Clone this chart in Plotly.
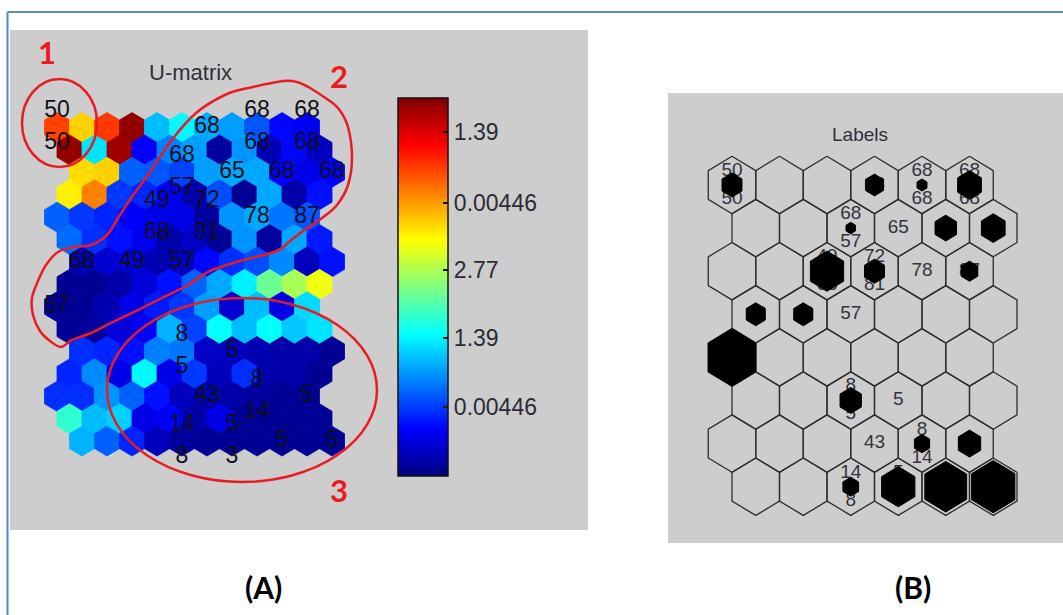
import numpy as np
import plotly.graph_objects as go

W, H = 1063, 615

# ---------------------------------------------------------------- data
MAP_ROWS, MAP_COLS = 8, 6

# U-matrix (2*8-1 rows x 2*6-1 cols), values as position on the colour scale
UMAT = [
    [0.81, 0.67, 0.82, 0.98, 0.31, 0.37, 0.29, 0.28, 0.21, 0.13, 0.12],
    [0.98, 0.35, 0.97, 0.12, 0.25, 0.28, 0.03, 0.27, 0.05, 0.13, 0.06],
    [0.66, 0.67, 0.22, 0.21, 0.19, 0.28, 0.29, 0.29, 0.12, 0.10, 0.12],
    [0.64, 0.75, 0.18, 0.16, 0.11, 0.04, 0.20, 0.02, 0.29, 0.04, 0.14],
    [0.22, 0.18, 0.16, 0.12, 0.10, 0.10, 0.03, 0.27, 0.29, 0.24, 0.21],
    [0.23, 0.17, 0.14, 0.11, 0.04, 0.07, 0.02, 0.27, 0.03, 0.29, 0.15],
    [0.05, 0.08, 0.08, 0.05, 0.06, 0.13, 0.17, 0.20, 0.26, 0.06, 0.14],
    [0.02, 0.02, 0.04, 0.09, 0.14, 0.22, 0.29, 0.36, 0.48, 0.54, 0.61],
    [0.02, 0.02, 0.05, 0.10, 0.15, 0.18, 0.28, 0.08, 0.31, 0.10, 0.34],
    [0.02, 0.03, 0.09, 0.12, 0.30, 0.19, 0.38, 0.31, 0.38, 0.32, 0.35],
    [0.17, 0.16, 0.14, 0.25, 0.24, 0.07, 0.06, 0.05, 0.04, 0.04, 0.02],
    [0.16, 0.26, 0.10, 0.37, 0.10, 0.18, 0.06, 0.17, 0.04, 0.04, 0.02],
    [0.17, 0.17, 0.27, 0.22, 0.14, 0.06, 0.04, 0.04, 0.03, 0.02, 0.02],
    [0.42, 0.31, 0.33, 0.10, 0.12, 0.04, 0.10, 0.02, 0.02, 0.02, 0.02],
    [0.30, 0.22, 0.16, 0.06, 0.03, 0.02, 0.02, 0.02, 0.02, 0.02, 0.02],
]

# labels attached to map units: (row, col, labels), 1-based
UNIT_LABELS = [
    (1, 1, ["50", "50"]), (1, 4, ["68"]), (1, 5, ["68", "68"]), (1, 6, ["68", "68"]),
    (2, 3, ["68", "57"]), (2, 4, ["65"]), (2, 5, ["68"]), (2, 6, ["68"]),
    (3, 3, ["49", "68"]), (3, 4, ["72", "81"]), (3, 5, ["78"]), (3, 6, ["87"]),
    (4, 1, ["68"]), (4, 2, ["49"]), (4, 3, ["57"]),
    (5, 1, ["57"]),
    (6, 3, ["8", "5"]), (6, 4, ["5"]),
    (7, 4, ["43"]), (7, 5, ["8", "14"]), (7, 6, ["5"]),
    (8, 3, ["14", "8"]), (8, 4, ["5", "3"]), (8, 5, ["5"]), (8, 6, ["5"]),
]

# hit-marker size per unit (fraction of the unit hexagon)
HITS = [
    (1, 1, 0.42), (1, 4, 0.38), (1, 5, 0.21), (1, 6, 0.50),
    (2, 3, 0.20), (2, 5, 0.45), (2, 6, 0.50),
    (3, 3, 0.70), (3, 4, 0.42), (3, 6, 0.35),
    (4, 1, 0.40), (4, 2, 0.40),
    (5, 1, 1.00),
    (6, 3, 0.45),
    (7, 5, 0.32), (7, 6, 0.47),
    (8, 3, 0.33), (8, 4, 0.70), (8, 5, 0.88), (8, 6, 0.91),
]

CB_TICKS = [0.183, 0.365, 0.545, 0.722, 0.910]
CB_TICKTEXT = ["0.00446", "1.39", "2.77", "0.00446", "1.39"]

# ---------------------------------------------------------------- styling / layout
JET_STOPS = [0.0, 0.125, 0.375, 0.625, 0.875, 1.0]
JET_RGB = [(0, 0, 128), (0, 0, 255), (0, 255, 255), (255, 255, 0), (255, 0, 0), (128, 0, 0)]
JET = [[s, "rgb(%d,%d,%d)" % c] for s, c in zip(JET_STOPS, JET_RGB)]

BG_GRAY = "#cdcdcd"
FRAME_BLUE = "#5b87c5"
RED = "#ea1b22"

# panel geometry in pixels
A_BOX = (10, 30, 588, 530)          # left, top, right, bottom
A_X0, A_DX, A_Y0, A_DY = 57.0, 25.0, 127.5, 22.4
B_BOX = (668, 93, 1063, 543)
B_X0, B_DX, B_Y0, B_DY = 732.0, 47.5, 185.0, 43.1
CB_BOX = (398, 98, 448, 476)

HEX_X = np.array([0.0, 0.5, 0.5, 0.0, -0.5, -0.5, 0.0])
HEX_Y = np.array([-2 / 3, -1 / 3, 1 / 3, 2 / 3, 1 / 3, -1 / 3, -2 / 3])


def jet_color(v):
    v = min(max(v, 0.0), 1.0)
    ch = [np.interp(v, JET_STOPS, [c[k] for c in JET_RGB]) for k in range(3)]
    return "rgb(%d,%d,%d)" % tuple(int(round(c)) for c in ch)


def umat_shift(r):
    # row shift of the hexaU grid (0-based row)
    m = r % 4
    return 0.0 if m == 0 else (1.0 if m == 2 else 0.5)


def unit_pos_umat(i, j):
    r = 2 * (i - 1)
    return 2 * (j - 1) + umat_shift(r), r


def unit_pos_map(i, j):
    return (j - 1) + (0.5 if i % 2 == 0 else 0.0), i - 1


def px(x):
    return x / W


def py(y):
    return 1 - y / H


fig = go.Figure()

# ---------------- U-matrix cells
for r, row in enumerate(UMAT):
    for c, v in enumerate(row):
        cx, cy = c + umat_shift(r), r
        col = jet_color(v)
        fig.add_trace(go.Scatter(
            x=cx + HEX_X, y=cy + HEX_Y, mode="lines", fill="toself",
            fillcolor=col, line=dict(color=col, width=0.8),
            hoverinfo="skip", showlegend=False, xaxis="x", yaxis="y"))

# ---------------- U-matrix labels
tx, ty, tt = [], [], []
for i, j, labs in UNIT_LABELS:
    x0, y0 = unit_pos_umat(i, j)
    offs = [0.0] if len(labs) == 1 else [-0.72, 0.72]
    for lab, o in zip(labs, offs):
        tx.append(x0)
        ty.append(y0 + o)
        tt.append(lab)
fig.add_trace(go.Scatter(
    x=tx, y=ty, text=tt, mode="text", textposition="middle center",
    textfont=dict(family="Liberation Sans", size=23, color="#10101a"),
    hoverinfo="skip", showlegend=False, xaxis="x", yaxis="y"))

# ---------------- colour bar
fig.add_trace(go.Scatter(
    x=[-100], y=[-100], mode="markers", hoverinfo="skip", showlegend=False,
    marker=dict(color=[0.5], cmin=0, cmax=1, colorscale=JET, opacity=0,
                showscale=True,
                colorbar=dict(
                    x=px(CB_BOX[0]), xanchor="left",
                    y=py(CB_BOX[3]), yanchor="bottom",
                    len=(CB_BOX[3] - CB_BOX[1]) / H, lenmode="fraction",
                    thickness=CB_BOX[2] - CB_BOX[0], thicknessmode="pixels",
                    outlinewidth=1.5, outlinecolor="#111111",
                    tickmode="array", tickvals=CB_TICKS, ticktext=CB_TICKTEXT,
                    ticks="inside", ticklen=5, tickcolor="#111111", tickwidth=1.5,
                    tickfont=dict(family="Liberation Sans", size=23, color="#2b2b35"),
                    xpad=0, ypad=0, borderwidth=0, bgcolor="rgba(0,0,0,0)")),
    xaxis="x", yaxis="y"))

# ---------------- label map: unit outlines
ox, oy = [], []
for i in range(1, MAP_ROWS + 1):
    for j in range(1, MAP_COLS + 1):
        x0, y0 = unit_pos_map(i, j)
        ox += list(x0 + HEX_X) + [None]
        oy += list(y0 + HEX_Y) + [None]
fig.add_trace(go.Scatter(
    x=ox, y=oy, mode="lines", line=dict(color="#2e2e2e", width=1.3),
    hoverinfo="skip", showlegend=False, xaxis="x2", yaxis="y2"))

# ---------------- label map: labels
tx, ty, tt = [], [], []
for i, j, labs in UNIT_LABELS:
    x0, y0 = unit_pos_map(i, j)
    offs = [0.0] if len(labs) == 1 else [-0.32, 0.33]
    for lab, o in zip(labs, offs):
        tx.append(x0)
        ty.append(y0 + o)
        tt.append(lab)
fig.add_trace(go.Scatter(
    x=tx, y=ty, text=tt, mode="text", textposition="middle center",
    textfont=dict(family="Liberation Sans", size=19, color="#33333d"),
    hoverinfo="skip", showlegend=False, xaxis="x2", yaxis="y2"))

# ---------------- label map: hit markers
hx, hy = [], []
for i, j, s in HITS:
    x0, y0 = unit_pos_map(i, j)
    hx += list(x0 + s * HEX_X) + [None]
    hy += list(y0 + s * HEX_Y) + [None]
fig.add_trace(go.Scatter(
    x=hx, y=hy, mode="lines", fill="toself", fillcolor="#000000",
    line=dict(color="#000000", width=1),
    hoverinfo="skip", showlegend=False, xaxis="x2", yaxis="y2"))

# ---------------- axes
def axis_pair(box, x0, dx, y0, dy):
    xa = dict(domain=[px(box[0]), px(box[2])],
              range=[(box[0] - x0) / dx, (box[2] - x0) / dx],
              visible=False, fixedrange=True)
    ya = dict(domain=[py(box[3]), py(box[1])],
              range=[(box[3] - y0) / dy, (box[1] - y0) / dy],
              visible=False, fixedrange=True)
    return xa, ya


xa1, ya1 = axis_pair(A_BOX, A_X0, A_DX, A_Y0, A_DY)
xa2, ya2 = axis_pair(B_BOX, B_X0, B_DX, B_Y0, B_DY)
ya1["anchor"] = "x"
xa1["anchor"] = "y"
xa2["anchor"] = "y2"
ya2["anchor"] = "x2"

# ---------------- shapes: panel backgrounds, frame, highlighted regions
shapes = []
for box in (A_BOX, B_BOX):
    shapes.append(dict(type="rect", xref="paper", yref="paper", layer="below",
                       x0=px(box[0]), x1=px(box[2]), y0=py(box[3]), y1=py(box[1]),
                       fillcolor=BG_GRAY, line=dict(width=0)))
shapes.append(dict(type="line", xref="paper", yref="paper", layer="above",
                   x0=px(7.5), x1=px(7.5), y0=py(12), y1=py(H),
                   line=dict(color=FRAME_BLUE, width=2)))
shapes.append(dict(type="line", xref="paper", yref="paper", layer="above",
                   x0=px(7.5), x1=px(W), y0=py(12), y1=py(12),
                   line=dict(color=FRAME_BLUE, width=2)))

# left-side colour-bar ticks
for t in CB_TICKS:
    yy = CB_BOX[3] - t * (CB_BOX[3] - CB_BOX[1])
    shapes.append(dict(type="line", xref="paper", yref="paper", layer="above",
                       x0=px(CB_BOX[0]), x1=px(CB_BOX[0] + 5), y0=py(yy), y1=py(yy),
                       line=dict(color="#111111", width=1.5)))

# cluster outlines drawn over the U-matrix
shapes.append(dict(type="circle", xref="paper", yref="paper", layer="above",
                   x0=px(22), x1=px(97), y0=py(167), y1=py(79),
                   line=dict(color=RED, width=2.5)))
shapes.append(dict(type="circle", xref="paper", yref="paper", layer="above",
                   x0=px(107), x1=px(377), y0=py(482), y1=py(298),
                   line=dict(color=RED, width=2.5)))

REGION2 = [(297, 82), (310, 88), (324, 97), (338, 108), (348, 127), (352, 158),
           (348, 185), (337, 205), (322, 218), (303, 231), (290, 241), (277, 251),
           (240, 261), (210, 271), (188, 285), (162, 298), (138, 310), (111, 323),
           (91, 333), (72, 340), (61, 347), (50, 341), (40, 331), (33, 315),
           (32, 298), (38, 281), (46, 265), (58, 252), (75, 247), (91, 245),
           (107, 235), (118, 218), (131, 198), (148, 175), (171, 141), (196, 113),
           (227, 94), (253, 87), (283, 81)]


def closed_spline_path(pts):
    n = len(pts)
    p = [(px(x), py(y)) for x, y in pts]
    d = "M %.5f,%.5f" % p[0]
    for k in range(n):
        p0, p1, p2, p3 = p[k - 1], p[k], p[(k + 1) % n], p[(k + 2) % n]
        c1 = (p1[0] + (p2[0] - p0[0]) / 6, p1[1] + (p2[1] - p0[1]) / 6)
        c2 = (p2[0] - (p3[0] - p1[0]) / 6, p2[1] - (p3[1] - p1[1]) / 6)
        d += " C %.5f,%.5f %.5f,%.5f %.5f,%.5f" % (c1 + c2 + p2)
    return d + " Z"


shapes.append(dict(type="path", xref="paper", yref="paper", layer="above",
                   path=closed_spline_path(REGION2), line=dict(color=RED, width=2.5)))

# ---------------- text annotations
def note(x, y, text, size, color, family="Liberation Sans", bold=False):
    return dict(x=px(x), y=py(y), xref="paper", yref="paper", text=("<b>%s</b>" % text) if bold else text,
                showarrow=False, xanchor="center", yanchor="middle",
                font=dict(family=family, size=size, color=color))


annotations = [
    note(190, 73, "U-matrix", 22, "#303038"),
    note(860, 135, "Labels", 19, "#303038"),
    note(47, 52, "1", 31, RED, "Lato", True),
    note(339, 76, "2", 31, RED, "Lato", True),
    note(339, 490, "3", 31, RED, "Lato", True),
    note(263, 587, "(A)", 30, "#000000", "Lato", True),
    note(913, 587, "(B)", 30, "#000000", "Lato", True),
]

fig.update_layout(
    width=W, height=H, margin=dict(l=0, r=0, t=0, b=0),
    paper_bgcolor="white", plot_bgcolor="rgba(0,0,0,0)",
    xaxis=xa1, yaxis=ya1, xaxis2=xa2, yaxis2=ya2,
    shapes=shapes, annotations=annotations, showlegend=False,
)

fig.write_html("out.html")
